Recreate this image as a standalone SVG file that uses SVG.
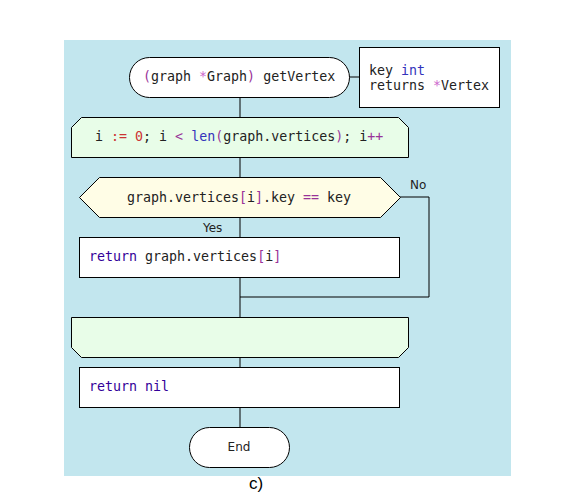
<svg xmlns="http://www.w3.org/2000/svg" width="582" height="495" viewBox="0 0 582 495">
<style>
.code{font-family:"DejaVu Sans Mono",monospace;font-size:13.3px;fill:#222;white-space:pre}
.lbl{font-family:"DejaVu Sans",sans-serif;font-size:12px;fill:#222}
.sh{stroke:#000;stroke-width:1}
.con{stroke:#000;stroke-width:1;fill:none}
.p{fill:#993399}
.k{fill:#cc66cc}
.b{fill:#3333bb}
.r{fill:#330099}
.n{fill:#cc3333}
</style>
<rect x="64" y="40" width="447" height="436" fill="#c2e6ee"/>
<g id="connectors">
<line class="con" x1="349" y1="77" x2="359" y2="77"/>
<line class="con" x1="240" y1="97" x2="240" y2="117"/>
<line class="con" x1="240" y1="157" x2="240" y2="177"/>
<line class="con" x1="240" y1="217" x2="240" y2="237"/>
<polyline class="con" points="400,197 429,197 429,297 240,297"/>
<line class="con" x1="240" y1="277" x2="240" y2="317"/>
<line class="con" x1="240" y1="357" x2="240" y2="367"/>
<line class="con" x1="240" y1="407" x2="240" y2="427"/>
<text class="lbl" x="410" y="189">No</text>
<text class="lbl" x="203" y="232">Yes</text>
</g>
<g id="start">
<rect class="sh" x="129.5" y="57.5" width="220" height="40" rx="20" fill="#fff"/>
<text class="code" x="143" y="81"><tspan class="p">(</tspan>graph <tspan class="k">*</tspan>Graph<tspan class="p">)</tspan> getVertex</text>
</g>
<g id="params">
<rect class="sh" x="359.5" y="47.5" width="140" height="60" fill="#fff"/>
<text class="code" x="369" y="75">key <tspan class="b">int</tspan></text>
<text class="code" x="369" y="89.5">returns <tspan class="k">*</tspan>Vertex</text>
</g>
<g id="loop-start">
<polygon class="sh" points="81.5,117.5 398.5,117.5 408.5,127.5 408.5,157.5 71.5,157.5 71.5,127.5" fill="#e8fde8"/>
<text class="code" x="95" y="141">i <tspan class="n">:=</tspan> <tspan class="n">0</tspan>; i <tspan class="p">&lt;</tspan> <tspan class="b">len</tspan><tspan class="p">(</tspan>graph.vertices<tspan class="p">)</tspan>; i<tspan class="p">++</tspan></text>
</g>
<g id="decision">
<polygon class="sh" points="79.5,197.5 99.5,177.5 380.5,177.5 400.5,197.5 380.5,217.5 99.5,217.5" fill="#fffde6"/>
<text class="code" x="239" y="202" text-anchor="middle">graph.vertices<tspan class="p">[</tspan>i<tspan class="p">]</tspan>.key <tspan class="p">==</tspan> key</text>
</g>
<g id="return-found">
<rect class="sh" x="79.5" y="237.5" width="320" height="40" fill="#fff"/>
<text class="code" x="89" y="261"><tspan class="r">return</tspan> graph.vertices<tspan class="p">[</tspan>i<tspan class="p">]</tspan></text>
</g>
<g id="loop-end">
<polygon class="sh" points="71.5,317.5 408.5,317.5 408.5,347.5 398.5,357.5 81.5,357.5 71.5,347.5" fill="#e8fde8"/>
</g>
<g id="return-nil">
<rect class="sh" x="79.5" y="367.5" width="320" height="40" fill="#fff"/>
<text class="code" x="89" y="391"><tspan class="r">return</tspan> <tspan class="r">nil</tspan></text>
</g>
<g id="end">
<rect class="sh" x="189.5" y="427.5" width="100" height="40" rx="20" fill="#fff"/>
<text class="lbl" x="239" y="451" text-anchor="middle" font-size="12.5">End</text>
</g>
<text x="249" y="489" font-family="Liberation Sans, sans-serif" font-size="17" fill="#000">c)</text>
</svg>
